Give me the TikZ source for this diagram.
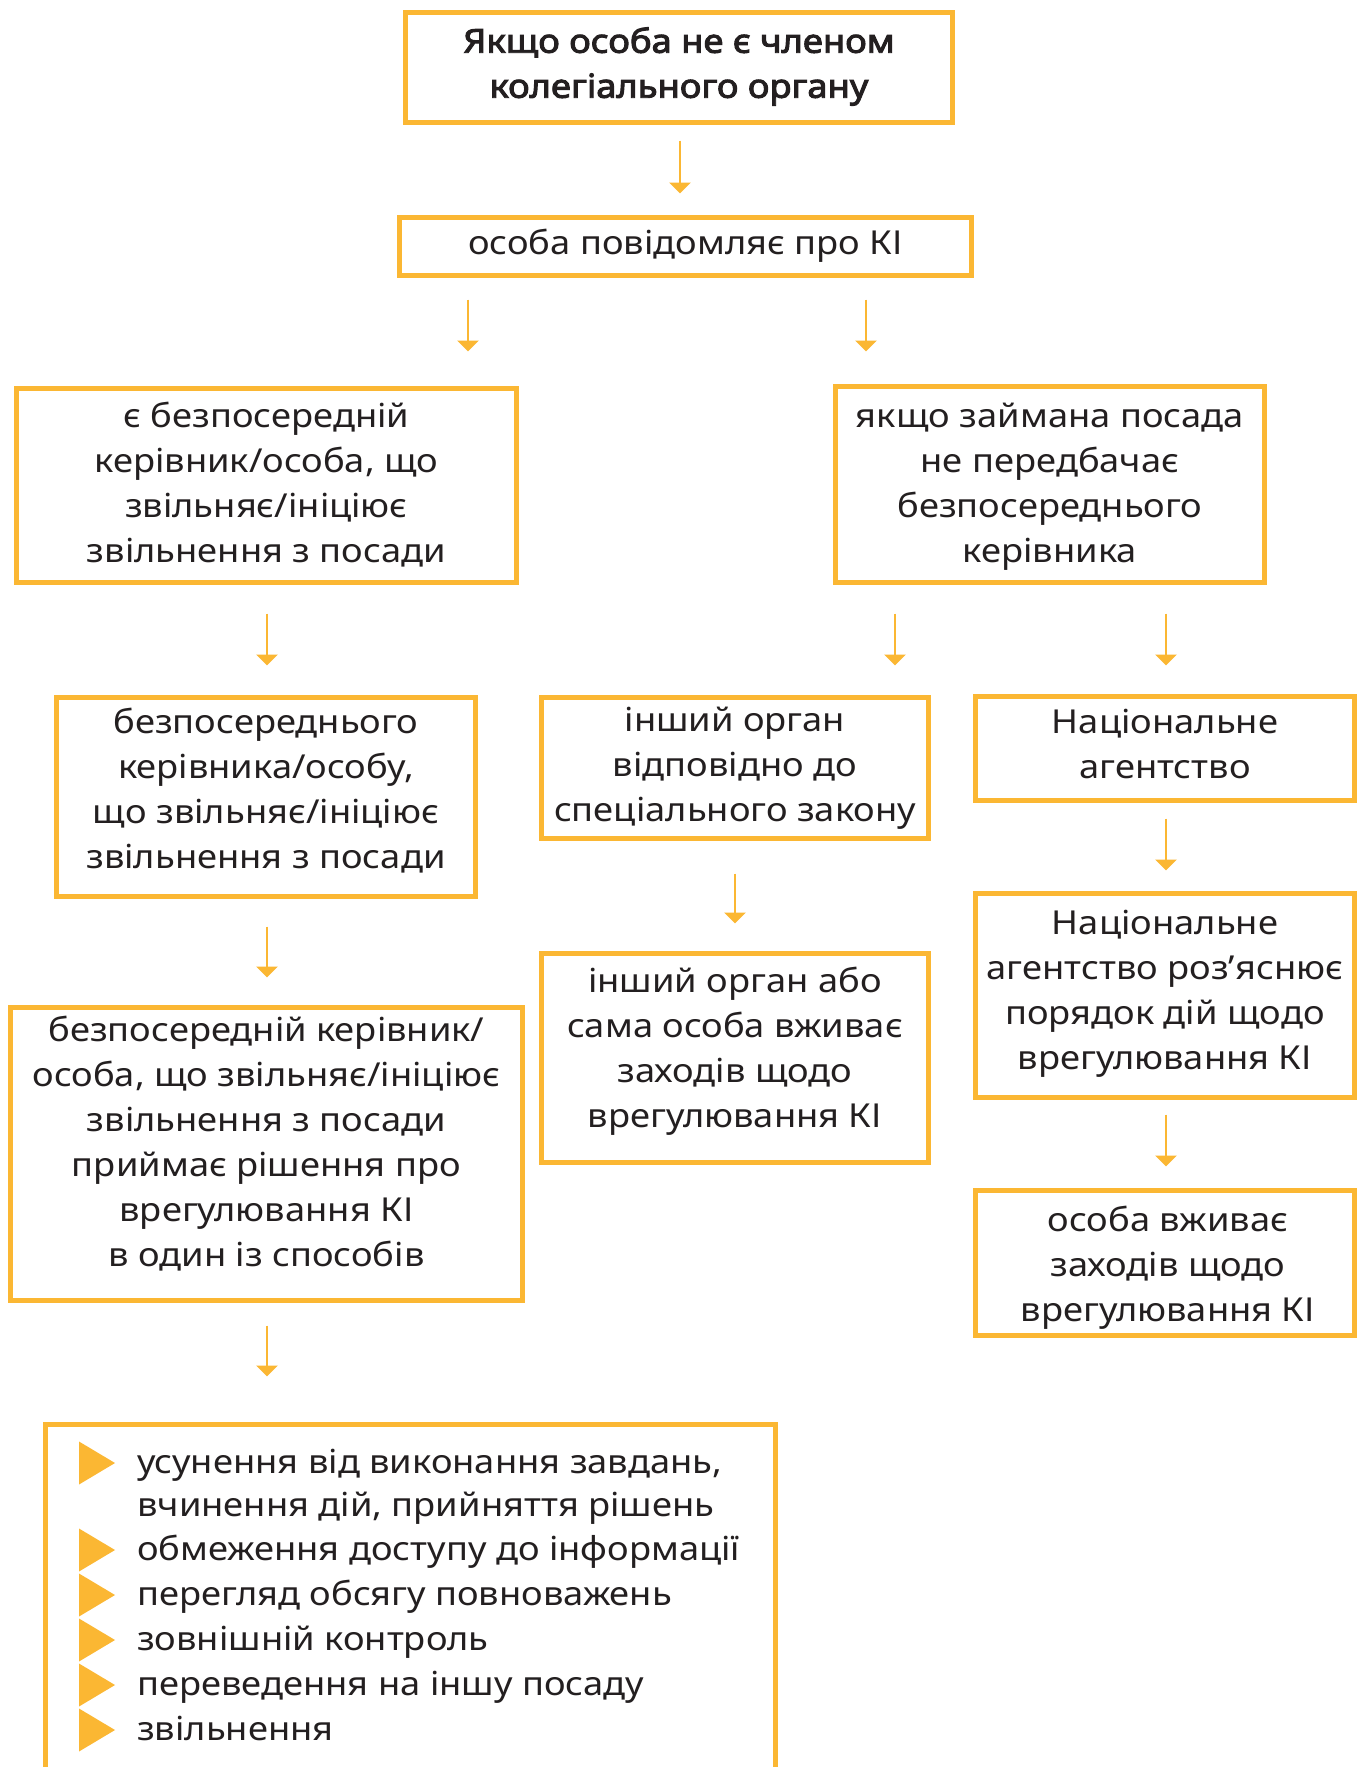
\documentclass[tikz,border=0pt]{standalone}
\usepackage{fontspec}
\setmainfont{Noto Sans}[FakeStretch=1.1]
\newfontfamily\titlefont{Noto Sans}[FakeStretch=1.1,FakeBold=3]
\usetikzlibrary{arrows.meta}
\definecolor{ko}{RGB}{251,183,51}
\definecolor{kt}{RGB}{35,31,32}
\tikzset{
  frame/.style={draw=ko, line width=5pt, inner sep=0pt},
  txt/.style={inner sep=0pt, align=center, text=kt, font=\fontsize{33}{45}\selectfont},
  ttl/.style={font=\titlefont\fontsize{33}{45}\selectfont},
  arr/.style={draw=ko, line width=2.4pt, -{Triangle[width=21pt,length=11pt]}},
  bul/.style={fill=ko},
  item/.style={anchor=base west, inner sep=0pt, text=kt, font=\fontsize{33}{45}\selectfont}
}
% \tbox[style]{name}{x}{y}{w}{h}{dx}{dy}{text}
\newcommand\tbox[9][]{%
  \node[frame, minimum width=#5pt, minimum height=#6pt] (#2) at (#3,#4) {};
  \node[txt,#1] (#2t) at ([xshift=#7pt,yshift=-#8pt]#2.center) {#9};
}
\begin{document}
\begin{tikzpicture}[x=1pt,y=-1pt]
\path[use as bounding box, clip] (0,0) rectangle (1360,1767);
\fill[white] (0,0) rectangle (1360,1767);
% boxes
\tbox[ttl]{b1}{679}{67.5}{547}{110}{0}{-1}{Якщо особа не є членом\\колегіального органу}
\tbox{b2}{685.5}{246.5}{572}{58}{0}{-1}{особа повідомляє про КІ}
\tbox{b3}{266.5}{485.5}{500}{194}{0}{-1}{є безпосередній\\керівник/особа, що\\звільняє/ініціює\\звільнення з посади}
\tbox{b4}{1050}{484.5}{429}{196}{0}{2}{якщо займана посада\\не передбачає\\безпосереднього\\керівника}
\tbox{b5}{266}{797}{419}{199}{0}{-6}{безпосереднього\\керівника/особу,\\що звільняє/ініціює\\звільнення з посади}
\tbox{b6}{735}{768}{387}{141}{0}{0}{інший орган\\відповідно до\\спеціального закону}
\tbox{b7}{1165}{748.5}{379}{104}{0}{-4.5}{Національне\\агентство}
\tbox{b8}{266.5}{1154}{512}{293}{0}{-10}{безпосередній керівник/\\особа, що звільняє/ініціює\\звільнення з посади\\приймає рішення про\\врегулювання КІ\\в один із способів}
\tbox{b9}{735}{1058}{387}{209}{0}{-7}{інший орган або\\сама особа вживає\\заходів щодо\\врегулювання КІ}
\tbox{b10}{1165}{995.5}{379}{204}{0}{-2}{Національне\\агентство роз’яснює\\порядок дій щодо\\врегулювання КІ}
\tbox{b11}{1165}{1263}{379}{145}{3}{4.5}{особа вживає\\заходів щодо\\врегулювання КІ}
\node[frame, minimum width=730pt, minimum height=420pt] (b12) at (410.5,1634.5) {};
% list
\node[item] (l1a) at (137,1473) {усунення від виконання завдань,};
\node[item] (l1b) at (137,1516) {вчинення дій, прийняття рішень};
\node[item] (l2) at (137,1560) {обмеження доступу до інформації};
\node[item] (l3) at (137,1605) {перегляд обсягу повноважень};
\node[item] (l4) at (137,1650) {зовнішній контроль};
\node[item] (l5) at (137,1695) {переведення на іншу посаду};
\node[item] (l6) at (137,1740) {звільнення};
\foreach \c in {1463,1550,1595,1640,1685,1730}{
  \fill[bul] (79,\c-21.5) -- (115,\c) -- (79,\c+21.5) -- cycle;
}
% arrow columns
\coordinate (xa) at (680,0);
\coordinate (xb) at (468,0);
\coordinate (xc) at (866,0);
\coordinate (xd) at (267,0);
\coordinate (xe) at (895,0);
\coordinate (xf) at (1166,0);
\coordinate (xg) at (735,0);
% arrows
\draw[arr, shorten <=15.5pt, shorten >=21.5pt] (b1.south -| xa) -- (b2.north -| xa);
\draw[arr, shorten <=21.5pt, shorten >=34.5pt] (b2.south -| xb) -- (b3.north -| xb);
\draw[arr, shorten <=21.5pt, shorten >=32.5pt] (b2.south -| xc) -- (b4.north -| xc);
\draw[arr, shorten <=28.5pt, shorten >=29.5pt] (b3.south -| xd) -- (b5.north -| xd);
\draw[arr, shorten <=28.5pt, shorten >=29.5pt] (b4.south -| xe) -- (b6.north -| xe);
\draw[arr, shorten <=28.5pt, shorten >=28.5pt] (b4.south -| xf) -- (b7.north -| xf);
\draw[arr, shorten <=27.5pt, shorten >=27.5pt] (b5.south -| xd) -- (b8.north -| xd);
\draw[arr, shorten <=32.5pt, shorten >=27.5pt] (b6.south -| xg) -- (b9.north -| xg);
\draw[arr, shorten <=15.5pt, shorten >=20.5pt] (b7.south -| xf) -- (b10.north -| xf);
\draw[arr, shorten <=14.5pt, shorten >=21.5pt] (b10.south -| xf) -- (b11.north -| xf);
\draw[arr, shorten <=22.5pt, shorten >=45.5pt] (b8.south -| xd) -- (b12.north -| xd);
\end{tikzpicture}
\end{document}
